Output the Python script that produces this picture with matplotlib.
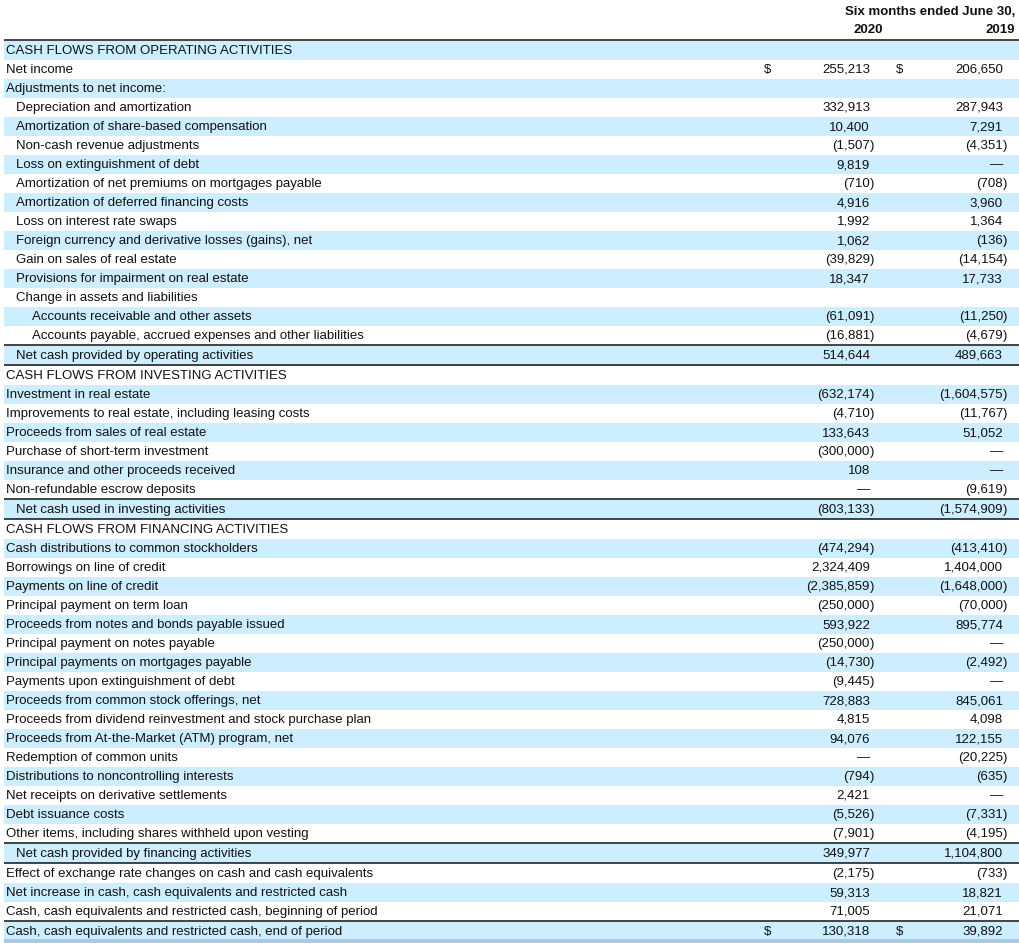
import matplotlib
matplotlib.use("Agg")
import matplotlib.pyplot as plt

plt.rcParams['font.family'] = ['Liberation Sans', 'DejaVu Sans']

header_title = "Six months ended June 30,"
year_labels = ["2020", "2019"]

labels = [
    "CASH FLOWS FROM OPERATING ACTIVITIES",
    "Net income",
    "Adjustments to net income:",
    "Depreciation and amortization",
    "Amortization of share-based compensation",
    "Non-cash revenue adjustments",
    "Loss on extinguishment of debt",
    "Amortization of net premiums on mortgages payable",
    "Amortization of deferred financing costs",
    "Loss on interest rate swaps",
    "Foreign currency and derivative losses (gains), net",
    "Gain on sales of real estate",
    "Provisions for impairment on real estate",
    "Change in assets and liabilities",
    "Accounts receivable and other assets",
    "Accounts payable, accrued expenses and other liabilities",
    "Net cash provided by operating activities",
    "CASH FLOWS FROM INVESTING ACTIVITIES",
    "Investment in real estate",
    "Improvements to real estate, including leasing costs",
    "Proceeds from sales of real estate",
    "Purchase of short-term investment",
    "Insurance and other proceeds received",
    "Non-refundable escrow deposits",
    "Net cash used in investing activities",
    "CASH FLOWS FROM FINANCING ACTIVITIES",
    "Cash distributions to common stockholders",
    "Borrowings on line of credit",
    "Payments on line of credit",
    "Principal payment on term loan",
    "Proceeds from notes and bonds payable issued",
    "Principal payment on notes payable",
    "Principal payments on mortgages payable",
    "Payments upon extinguishment of debt",
    "Proceeds from common stock offerings, net",
    "Proceeds from dividend reinvestment and stock purchase plan",
    "Proceeds from At-the-Market (ATM) program, net",
    "Redemption of common units",
    "Distributions to noncontrolling interests",
    "Net receipts on derivative settlements",
    "Debt issuance costs",
    "Other items, including shares withheld upon vesting",
    "Net cash provided by financing activities",
    "Effect of exchange rate changes on cash and cash equivalents",
    "Net increase in cash, cash equivalents and restricted cash",
    "Cash, cash equivalents and restricted cash, beginning of period",
    "Cash, cash equivalents and restricted cash, end of period",
]

indent_levels = [0, 0, 0, 1, 1, 1, 1, 1, 1, 1, 1, 1, 1, 1, 2, 2, 1,
                 0, 0, 0, 0, 0, 0, 0, 1,
                 0, 0, 0, 0, 0, 0, 0, 0, 0, 0, 0, 0, 0, 0, 0, 0, 0, 1,
                 0, 0, 0, 0]

# "" = no value, None = dash
values_2020 = ["", 255213, "", 332913, 10400, -1507, 9819, -710, 4916, 1992, 1062,
               -39829, 18347, "", -61091, -16881, 514644,
               "", -632174, -4710, 133643, -300000, 108, None, -803133,
               "", -474294, 2324409, -2385859, -250000, 593922, -250000, -14730,
               -9445, 728883, 4815, 94076, None, -794, 2421, -5526, -7901, 349977,
               -2175, 59313, 71005, 130318]

values_2019 = ["", 206650, "", 287943, 7291, -4351, None, -708, 3960, 1364, -136,
               -14154, 17733, "", -11250, -4679, 489663,
               "", -1604575, -11767, 51052, None, None, -9619, -1574909,
               "", -413410, 1404000, -1648000, -70000, 895774, None, -2492,
               None, 845061, 4098, 122155, -20225, -635, None, -7331, -4195, 1104800,
               -733, 18821, 21071, 39892]

dollar_rows = ["Net income", "Cash, cash equivalents and restricted cash, end of period"]
total_rows = ["Net cash provided by operating activities",
              "Net cash used in investing activities",
              "Net cash provided by financing activities"]
rule_above_rows = ["Cash, cash equivalents and restricted cash, end of period"]

W, H = 1019, 943
fig = plt.figure(figsize=(W / 100, H / 100), dpi=100)
ax = fig.add_axes([0, 0, 1, 1])
ax.set_xlim(0, W)
ax.set_ylim(H, 0)
ax.axis('off')

FS = 9.5
BLUE = '#cceeff'
TXT = '#111111'
ROW_H = 19
x_left = 4
indent_x = [6, 16, 32]
col_right = [870, 1003]
dollar_x = [768, 900]

# header
ax.text(1015, 12, header_title, ha='right', va='center', fontsize=FS, fontweight='bold', color=TXT)
ax.text(883, 30, year_labels[0], ha='right', va='center', fontsize=FS, fontweight='bold', color=TXT)
ax.text(1015, 30, year_labels[1], ha='right', va='center', fontsize=FS, fontweight='bold', color=TXT)


def hline(y):
    ax.plot([x_left, W], [y, y], color='#111111', lw=1.1, solid_capstyle='butt')


def fmt(v):
    if v is None:
        return "\u2014", ""
    if v == "":
        return "", ""
    if v < 0:
        return "({:,}".format(-v), ")"
    return "{:,}".format(v), ""


y = 40
hline(y)
y += 1
for i, lab in enumerate(labels):
    if lab in total_rows or lab in rule_above_rows:
        if i > 0 and labels[i - 1] not in total_rows:
            hline(y)
            y += 1
    top = y
    if i % 2 == 0:
        ax.add_patch(plt.Rectangle((x_left, top), W - x_left, ROW_H, color=BLUE, lw=0))
    yc = top + ROW_H / 2 + 0.5
    ax.text(indent_x[indent_levels[i]], yc, lab, ha='left', va='center', fontsize=FS, color=TXT)
    for c, vals in enumerate([values_2020, values_2019]):
        s, p = fmt(vals[i])
        if s:
            ax.text(col_right[c], yc, s, ha='right', va='center', fontsize=FS, color=TXT)
        if p:
            ax.text(col_right[c], yc, p, ha='left', va='center', fontsize=FS, color=TXT)
        if lab in dollar_rows:
            ax.text(dollar_x[c], yc, "$", ha='center', va='center', fontsize=FS, color=TXT)
    y = top + ROW_H
    if lab in total_rows:
        hline(y)
        y += 1

# bottom bar
ax.add_patch(plt.Rectangle((x_left, 939), W - x_left, 4, color='#a9c9e2', lw=0))

fig.savefig('out.png', dpi=100)
